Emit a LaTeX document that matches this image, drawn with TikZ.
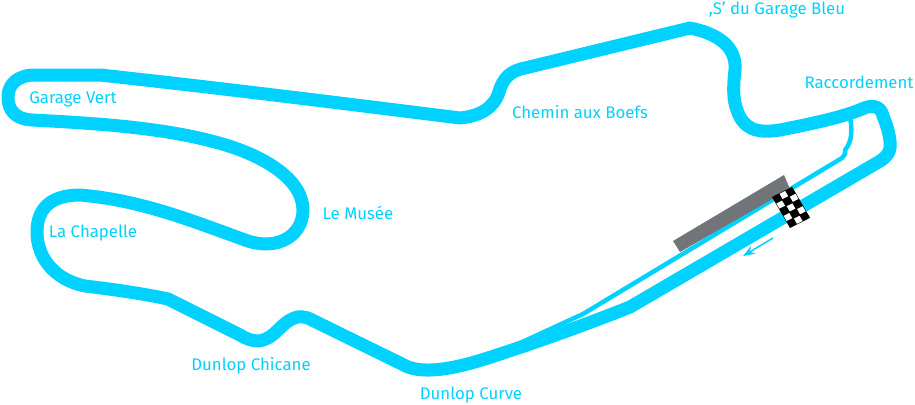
\documentclass[tikz,border=0pt]{standalone}
\usepackage{fontspec}
\setmainfont{Fira Sans}
\usepackage{tikz}
\usetikzlibrary{arrows.meta}
\definecolor{trackblue}{HTML}{00D2FF}
\definecolor{pitgrey}{HTML}{717579}
\begin{document}
\begin{tikzpicture}[x=1bp,y=-1bp,line join=round,
  turn/.style={text=trackblue,font=\fontsize{16.8bp}{18bp}\selectfont,inner sep=0pt}]
\useasboundingbox (0,0) rectangle (915,404);
%%
\draw [trackblue,line width=13bp,fill=none] (100,75) .. controls (220,88) and (340,103) .. (460,118)
  .. controls (480,116) and (494,108) .. (499,92)
  .. controls (503,78) and (510,71) .. (525,68)
  -- (690,28)
  .. controls (715,33) and (737,45) .. (735,70)
  .. controls (733,87) and (733,100) .. (737,110)
  .. controls (743,128) and (755,134) .. (780,130)
  .. controls (810,124) and (840,118) .. (862,109)
  .. controls (872,104) and (881,106) .. (883,116)
  .. controls (888,128) and (891,140) .. (890,148)
  .. controls (889,156) and (882,160) .. (875,164)
  -- (630,307)
  .. controls (590,323) and (540,341) .. (500,354)
  .. controls (465,366) and (430,375) .. (408,367)
  -- (312,320)
  .. controls (298,312) and (288,320) .. (278,330)
  .. controls (265,343) and (255,344) .. (240,335)
  -- (168,299)
  .. controls (140,293) and (110,289) .. (85,286)
  .. controls (55,280) and (37,258) .. (37,232)
  .. controls (37,205) and (55,195) .. (80,195)
  .. controls (140,200) and (190,220) .. (245,240)
  .. controls (278,252) and (303,235) .. (303,210)
  .. controls (303,180) and (265,155) .. (215,142)
  .. controls (160,127) and (90,123) .. (32,120)
  .. controls (15,119) and (8,110) .. (8,97)
  .. controls (8,84) and (18,75) .. (35,75)
  -- cycle;
%% pit lane
\draw [trackblue,line width=4.5bp] (507,349) -- (583,314) -- (842,158) -- (845,154) -- (845,150)
  .. controls (852,142) and (853,130) .. (849,112);
%% grid
\fill [pitgrey] (673,241) -- (784,175) -- (790,189) -- (680,252) -- cycle;
\begin{scope}[shift={(772,197)},x={(6.7bp,3.4bp)},y={(3.6bp,-6.2bp)}]
  \fill [black] (0,0) -- (3,0) -- (3,5) -- (0,5) -- cycle;
  \foreach \row in {0,...,4} {
    \foreach \col in {0,1,2} {
      \pgfmathparse{int(mod(\row+\col,2))}
      \ifnum\pgfmathresult=1 \fill [white] ({\col+.08},{\row+.08}) -- ++(.84,0) -- ++(0,.84) -- ++(-.84,0) -- cycle; \fi
    }
  }
\end{scope}
%% direction
\coordinate (dir_a) at (773,238);
\coordinate (dir_b) at (743,256);
\draw [trackblue,line width=1.5bp,-{Stealth[length=12bp,width=9bp]}] (dir_a) -- (dir_b);
%%
\node (lbl_bleu) at (777,10) [turn] {,S' du Garage Bleu};
\node (lbl_racc) at (859,82) [turn] {Raccordement};
\node (lbl_boefs) at (580,112) [turn] {Chemin aux Boefs};
\node (lbl_vert) at (73,99) [turn] {Garage Vert};
\node (lbl_musee) at (358,213) [turn] {Le Musée};
\node (lbl_chapelle) at (93,233) [turn] {La Chapelle};
\node (lbl_chicane) at (251,366) [turn] {Dunlop Chicane};
\node (lbl_curve) at (471,395) [turn] {Dunlop Curve};
%
\end{tikzpicture}
\end{document}
